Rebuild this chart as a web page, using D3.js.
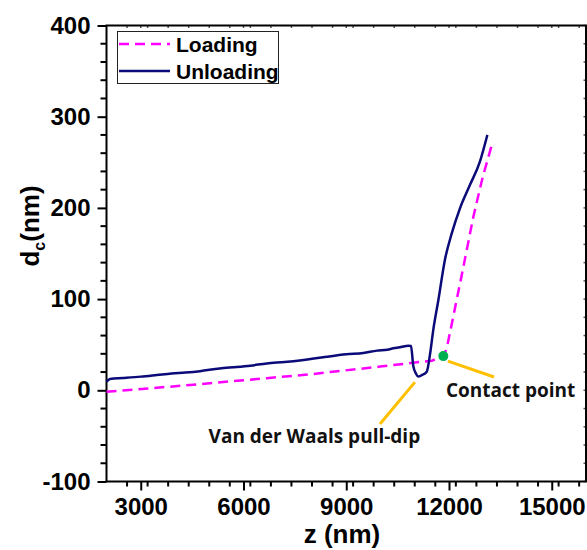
<!DOCTYPE html>
<html>
<head>
<meta charset="utf-8">
<script src="https://cdn.jsdelivr.net/npm/d3@7"></script>
<style>
  body { margin: 0; background: #fff; }
  svg { display: block; }
</style>
</head>
<body>
<div id="chart"></div>
<script>
// loading curve (dashed magenta)
const loadZ = [2000, 3270, 4440, 5690, 6680, 7950, 8530, 9990, 11060, 11500, 11834, 11935, 12370, 12710, 12985, 13265];
const loadD = [-1.5, 2.2, 5.8, 10, 13.3, 17.5, 20, 26, 30.7, 32.5, 37.5, 46, 126, 190, 234, 271];

// unloading curve (solid navy)
const unloadZ = [2000, 2100, 2480, 3000, 3470, 3900, 4300, 4730, 5300, 5800, 6200, 6680, 7200, 7700, 8000, 8430, 9000, 9500, 9900, 10200, 10370, 10600, 10810, 10890, 10960, 11040, 11100, 11200, 11350, 11450, 11540, 11690, 11880, 12080, 12320, 12610, 12900, 13120];
const unloadD = [9.5, 12.5, 13.5, 15, 16.8, 18.5, 19.5, 21, 24, 25.5, 27, 29.5, 31, 33, 34.5, 36.8, 39.5, 41, 43.5, 44.5, 46, 47.5, 48.9, 48.5, 26, 18, 15, 16.5, 20.4, 40.5, 66, 99, 143, 172, 199.5, 225, 250.5, 280];

const contactPoint = [11834, 37.5];

const xTicks = [3000, 6000, 9000, 12000, 15000];
const yTicks = [-100, 0, 100, 200, 300, 400];

const W = 587, H = 550;
const margin = {top: 25.5, right: 1, bottom: 68.5, left: 106.5};

const svg = d3.select("#chart").append("svg")
    .attr("width", W)
    .attr("height", H);

let x = d3.scaleLinear().domain([2000, 16000]).range([margin.left, W - margin.right]);
let y = d3.scaleLinear().domain([-100, 400]).range([H - margin.bottom, margin.top]);

const tickFont = "'Liberation Sans', Arial, sans-serif";
const plainNum = v => String(v);

// minor ticks
const xMinor = d3.range(2000, 16001, 600).filter(v => v > 2000 && !xTicks.includes(v));
const yMinor = d3.range(-100, 401, 20).filter(v => !yTicks.includes(v));

let xAxis = g => g
    .attr("transform", `translate(0,${y(-100)})`)
    .call(d3.axisBottom(x).tickValues(xTicks).tickFormat(plainNum).tickSize(9).tickPadding(7))
    .call(g => g.select(".domain").remove())
    .call(g => g.selectAll(".tick line").attr("stroke-width", 2))
    .call(g => g.selectAll("text").attr("font-family", tickFont).attr("font-weight", "bold").attr("font-size", 24).attr("fill", "#000"));

let yAxis = g => g
    .attr("transform", `translate(${x(2000)},0)`)
    .call(d3.axisLeft(y).tickValues(yTicks).tickFormat(plainNum).tickSize(9).tickPadding(7))
    .call(g => g.select(".domain").remove())
    .call(g => g.selectAll(".tick line").attr("stroke-width", 2))
    .call(g => g.selectAll("text").attr("font-family", tickFont).attr("font-weight", "bold").attr("font-size", 24).attr("fill", "#000"));

svg.append("g").call(xAxis);
svg.append("g").call(yAxis);

// minor ticks bottom / left (outward), top / right (small inward)
svg.append("g").selectAll("line").data(xMinor).join("line")
    .attr("x1", d => x(d)).attr("x2", d => x(d))
    .attr("y1", y(-100)).attr("y2", y(-100) + 5)
    .attr("stroke", "#000").attr("stroke-width", 2);
svg.append("g").selectAll("line").data(xMinor.concat(xTicks)).join("line")
    .attr("x1", d => x(d)).attr("x2", d => x(d))
    .attr("y1", y(400)).attr("y2", y(400) + 2.5)
    .attr("stroke", "#555").attr("stroke-width", 1.5);
svg.append("g").selectAll("line").data(yMinor).join("line")
    .attr("x1", x(2000) - 6).attr("x2", x(2000))
    .attr("y1", d => y(d)).attr("y2", d => y(d))
    .attr("stroke", "#000").attr("stroke-width", 2);
svg.append("g").selectAll("line").data(yMinor.concat(yTicks)).join("line")
    .attr("x1", x(16000) - 2.5).attr("x2", x(16000))
    .attr("y1", d => y(d)).attr("y2", d => y(d))
    .attr("stroke", "#555").attr("stroke-width", 1.5);

// frame
svg.append("rect")
    .attr("x", x(2000)).attr("y", y(400))
    .attr("width", x(16000) - x(2000))
    .attr("height", y(-100) - y(400))
    .attr("fill", "none")
    .attr("stroke", "#000")
    .attr("stroke-width", 2);

let line = d3.line().x(d => x(d[0])).y(d => y(d[1]));

svg.append("path")
    .datum(loadZ.map((z, i) => [z, loadD[i]]))
    .attr("d", line)
    .attr("fill", "none")
    .attr("stroke", "#ff00ff")
    .attr("stroke-width", 2.5)
    .attr("stroke-dasharray", "10,6");

svg.append("path")
    .datum(unloadZ.map((z, i) => [z, unloadD[i]]))
    .attr("d", line.curve(d3.curveMonotoneX))
    .attr("fill", "none")
    .attr("stroke", "#0a0a78")
    .attr("stroke-width", 2.5)
    .attr("stroke-linejoin", "round");

// annotations
const annoFont = "'Open Sans', 'Noto Sans', sans-serif";
svg.append("line")
    .attr("x1", x(11970)).attr("y1", y(32))
    .attr("x2", x(13315)).attr("y2", y(14.6))
    .attr("stroke", "#ffc000").attr("stroke-width", 3);
svg.append("line")
    .attr("x1", x(11005)).attr("y1", y(9))
    .attr("x2", x(9985)).attr("y2", y(-37))
    .attr("stroke", "#ffc000").attr("stroke-width", 3);

svg.append("circle")
    .attr("cx", x(contactPoint[0]))
    .attr("cy", y(contactPoint[1]))
    .attr("r", 5)
    .attr("fill", "#00b050");

svg.append("text")
    .attr("x", x(11910)).attr("y", y(-7.3))
    .attr("font-family", annoFont).attr("font-weight", 700).attr("font-size", 19)
    .attr("fill", "#111")
    .text("Contact point");

svg.append("text")
    .attr("x", x(8070)).attr("y", y(-57.8))
    .attr("text-anchor", "middle")
    .attr("font-family", annoFont).attr("font-weight", 700).attr("font-size", 19)
    .attr("fill", "#111")
    .text("Van der Waals pull-dip");

// legend
const legend = svg.append("g");
legend.append("rect")
    .attr("x", 117.5).attr("y", 31.5).attr("width", 161).attr("height", 52)
    .attr("fill", "#fff").attr("stroke", "#222").attr("stroke-width", 1);
const legendItems = [
  {label: "Loading", color: "#ff00ff", dash: "10,6", yy: 44},
  {label: "Unloading", color: "#0a0a78", dash: null, yy: 71}
];
legendItems.forEach(d => {
  legend.append("line")
      .attr("x1", 119).attr("x2", 170)
      .attr("y1", d.yy).attr("y2", d.yy)
      .attr("stroke", d.color).attr("stroke-width", 2.5)
      .attr("stroke-dasharray", d.dash);
  legend.append("text")
      .attr("x", 176).attr("y", d.yy + 7.5)
      .attr("font-family", tickFont).attr("font-weight", "bold").attr("font-size", 21)
      .text(d.label);
});

// axis titles
svg.append("text")
    .attr("x", 342).attr("y", 543)
    .attr("text-anchor", "middle")
    .attr("font-family", tickFont).attr("font-weight", "bold").attr("font-size", 26)
    .text("z (nm)");

const yTitle = svg.append("text")
    .attr("transform", "translate(39,226) rotate(-90)")
    .attr("text-anchor", "middle")
    .attr("font-family", tickFont).attr("font-weight", "bold").attr("font-size", 26);
yTitle.append("tspan").text("d");
yTitle.append("tspan").attr("font-size", 16).attr("dy", 6).text("c");
yTitle.append("tspan").attr("dy", -6).text("(nm)");
</script>
</body>
</html>
